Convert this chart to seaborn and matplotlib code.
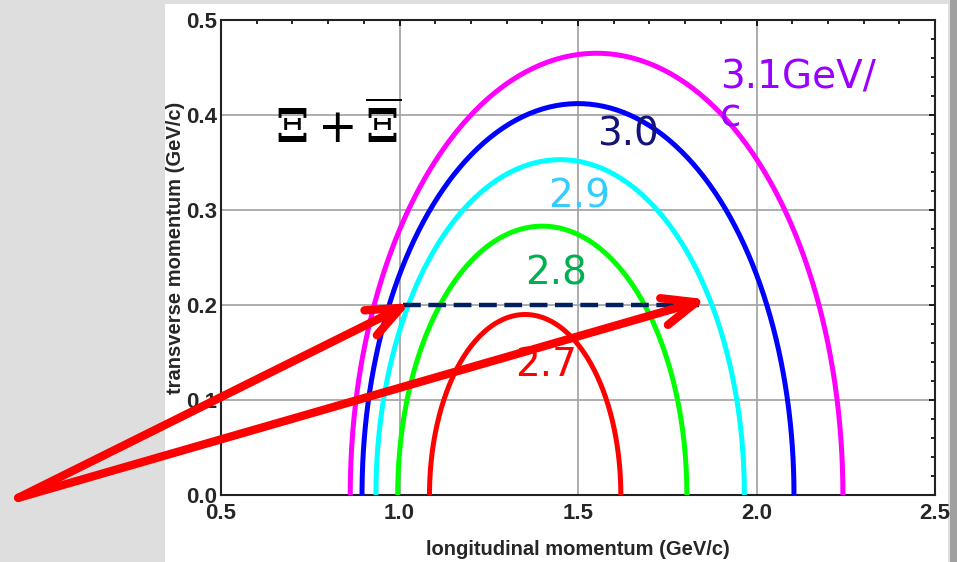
import numpy as np
import pandas as pd
import matplotlib.pyplot as plt
import seaborn as sns
from matplotlib.patches import Rectangle
from matplotlib.ticker import MultipleLocator

# -------------------------
# Values
# -------------------------
masses = ["2.7", "2.8", "2.9", "3.0", "3.1"]
# kinematic ellipses: centre, half-width (longitudinal), max transverse momentum
pl_center = [1.352, 1.400, 1.450, 1.500, 1.552]
pl_half = [0.268, 0.405, 0.516, 0.605, 0.690]
pt_max = [0.190, 0.283, 0.353, 0.412, 0.465]
curve_colors = ["#ff0000", "#00ff00", "#00ffff", "#0000ff", "#ff00ff"]

labels = ["2.7", "2.8", "2.9", "3.0", "3.1GeV/\nc"]
label_x = [1.324, 1.352, 1.416, 1.553, 1.898]
label_y = [0.125, 0.222, 0.303, 0.368, 0.388]
label_colors = ["#ff0000", "#00b050", "#33ccff", "#141478", "#9900ff"]

dash_x = [1.01, 1.84]
dash_y = [0.2, 0.2]

arrow_start = (-0.068, -0.003)
arrow_tips = [(1.03, 0.202), (1.86, 0.206)]

# -------------------------
# Build curve table
# -------------------------
t = np.linspace(0, np.pi, 200)
rows = []
for m, c, a, b in zip(masses, pl_center, pl_half, pt_max):
    rows.append(pd.DataFrame({"pl": c + a * np.cos(t), "pt": b * np.sin(t), "mass": m}))
df = pd.concat(rows, ignore_index=True)

# -------------------------
# Figure
# -------------------------
sns.set_style("white")
plt.rcParams["mathtext.fontset"] = "dejavuserif"
fig = plt.figure(figsize=(9.57, 5.62), dpi=100, facecolor="#dedede")
fig.patches.append(Rectangle((165 / 957, 0), (948 - 165) / 957, 1 - 4 / 562,
                             transform=fig.transFigure, facecolor="white",
                             edgecolor="none", zorder=-2))
fig.patches.append(Rectangle((950 / 957, 0), 7 / 957, 1,
                             transform=fig.transFigure, facecolor="#a0a0a0",
                             edgecolor="none", zorder=-2))
ax = fig.add_axes([221 / 957, 1 - 495 / 562, (935 - 221) / 957, (495 - 20) / 562])

sns.lineplot(data=df, x="pl", y="pt", hue="mass", palette=dict(zip(masses, curve_colors)),
             sort=False, estimator=None, lw=3.6, legend=False, ax=ax, zorder=3)

sns.lineplot(x=dash_x, y=dash_y, color="#002060", lw=3.2, ax=ax, zorder=4,
             linestyle=(0, (4, 1.7)))

for txt, x, y, col in zip(labels, label_x, label_y, label_colors):
    ax.text(x, y, txt, color=col, fontsize=28, ha="left", va="baseline",
            family="DejaVu Sans", linespacing=1.0, zorder=5)

ax.text(0.651, 0.370, r"$\mathbf{\Xi}+\overline{\mathbf{\Xi}}$", fontsize=34, color="black",
        ha="left", va="baseline")

for tip in arrow_tips:
    ax.annotate("", xy=tip, xytext=arrow_start, xycoords="data", textcoords="data",
                annotation_clip=False,
                arrowprops=dict(arrowstyle="->, head_length=1.2, head_width=0.5",
                                color="#ff0000", lw=6, mutation_scale=20,
                                shrinkA=0, shrinkB=0),
                zorder=6)

ax.set_xlim(0.5, 2.5)
ax.set_ylim(0, 0.5)
ax.xaxis.set_major_locator(MultipleLocator(0.5))
ax.xaxis.set_minor_locator(MultipleLocator(0.1))
ax.yaxis.set_major_locator(MultipleLocator(0.1))
ax.yaxis.set_minor_locator(MultipleLocator(0.02))
ax.grid(True, which="major", color="#a0a0a0", lw=1.2)
ax.set_axisbelow(True)

tick_font = dict(family=["Liberation Sans Narrow", "Liberation Sans", "DejaVu Sans"],
                 weight="bold", size=16)
ax.tick_params(which="both", direction="in", top=True, right=True, color="black", width=1.2)
ax.tick_params(which="major", length=4, pad=3)
ax.tick_params(which="minor", length=3)
ax.tick_params(axis="x", pad=6)
ax.set_xticks([0.5, 1.0, 1.5, 2.0, 2.5])
ax.set_xticklabels(["0.5", "1.0", "1.5", "2.0", "2.5"], fontdict=tick_font)
ax.set_yticks([0.0, 0.1, 0.2, 0.3, 0.4, 0.5])
ax.set_yticklabels(["0.0", "0.1", "0.2", "0.3", "0.4", "0.5"], fontdict=tick_font)
for s in ax.spines.values():
    s.set_color("#222222")
    s.set_linewidth(1.5)

label_font = dict(family=["Liberation Sans Narrow", "Liberation Sans", "DejaVu Sans"],
                  weight="bold", size=14.5)
ax.set_xlabel("longitudinal momentum (GeV/c)", fontdict=label_font)
ax.set_ylabel("transverse momentum (GeV/c)", fontdict=label_font)
ax.xaxis.set_label_coords(0.5, -0.095)
ax.yaxis.set_label_coords(-0.05, 0.52)

fig.savefig("out.png", dpi=100, facecolor=fig.get_facecolor())
